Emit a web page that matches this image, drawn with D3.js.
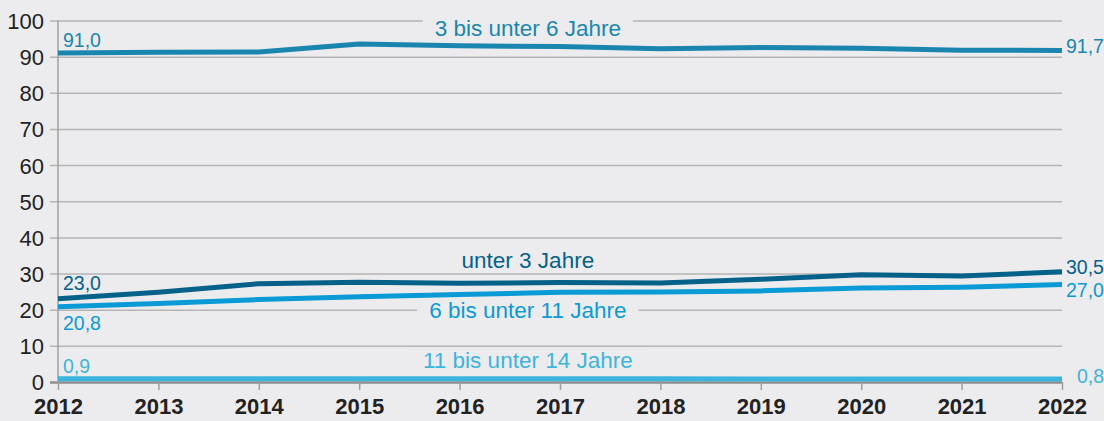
<!DOCTYPE html>
<html>
<head>
<meta charset="utf-8">
<script src="https://cdn.jsdelivr.net/npm/d3@7"></script>
<style>
  body { margin: 0; background: #ececee; }
  svg { display: block; font-family: "Liberation Sans", Arial, Helvetica, sans-serif; }
  .grid line { stroke: #b5b5b5; stroke-width: 1.5; }
  .axis text { fill: #222; }
</style>
</head>
<body>
<div id="chart"></div>
<script>
// Data
const years = [2012, 2013, 2014, 2015, 2016, 2017, 2018, 2019, 2020, 2021, 2022];
const yTicks = [0, 10, 20, 30, 40, 50, 60, 70, 80, 90, 100];

const age3to6   = [91.0, 91.2, 91.3, 93.5, 93.0, 92.8, 92.2, 92.5, 92.3, 91.8, 91.7];
const under3    = [23.0, 24.8, 27.2, 27.6, 27.3, 27.5, 27.4, 28.4, 29.7, 29.3, 30.5];
const age6to11  = [20.8, 21.7, 22.8, 23.6, 24.2, 24.8, 24.9, 25.2, 26.0, 26.2, 27.0];
const age11to14 = [0.9, 0.9, 0.9, 0.9, 0.9, 0.9, 0.9, 0.8, 0.8, 0.8, 0.8];

const seriesNames = ['3 bis unter 6 Jahre', 'unter 3 Jahre', '6 bis unter 11 Jahre', '11 bis unter 14 Jahre'];
const seriesValues = [age3to6, under3, age6to11, age11to14];
const seriesColors = ['#1a86b0', '#04618a', '#0a9ad6', '#3db4de'];

const config = {
  width: 1104,
  height: 421,
  margin: {top: 20, right: 42, bottom: 39, left: 58}
};

const svg = d3.select('#chart').append('svg')
    .attr('width', config.width)
    .attr('height', config.height);

svg.append('rect')
    .attr('width', config.width)
    .attr('height', config.height)
    .attr('fill', '#ececee');

const innerW = config.width - config.margin.left - config.margin.right;
const innerH = config.height - config.margin.top - config.margin.bottom;

const chart = svg.append('g')
    .attr('transform', `translate(${config.margin.left},${config.margin.top})`);

const xScale = d3.scaleLinear()
    .domain([years[0], years[years.length - 1]])
    .range([0, innerW]);

const yScale = d3.scaleLinear()
    .domain([0, 100])
    .range([innerH, 0.5]);

// Gridlines (y)
const yAxis = d3.axisLeft(yScale)
    .tickValues(yTicks)
    .tickSize(-innerW - 8)
    .tickPadding(6)
    .tickFormat(d => d);

const yAxisG = chart.append('g')
    .attr('class', 'axis grid')
    .attr('transform', 'translate(-8,0)')
    .call(yAxis)
    .call(g => g.select('.domain').remove());

yAxisG.selectAll('text')
    .attr('x', -6)
    .style('font-size', '22px')
    .attr('dy', '0.36em');

yAxisG.selectAll('line').filter(d => d === 0)
    .style('stroke', '#8e8e8e')
    .style('stroke-width', 2.5);

// Vertical axis line
chart.append('line')
    .attr('x1', 0).attr('x2', 0)
    .attr('y1', yScale(100)).attr('y2', innerH)
    .attr('stroke', '#a0a0a0')
    .attr('stroke-width', 1.5);

// X axis
const xAxis = d3.axisBottom(xScale)
    .tickValues(years)
    .tickSize(8)
    .tickPadding(10)
    .tickFormat(d => d);

const xAxisG = chart.append('g')
    .attr('class', 'axis')
    .attr('transform', `translate(0,${innerH})`)
    .call(xAxis)
    .call(g => g.select('.domain').remove());

xAxisG.selectAll('line').attr('stroke', '#a0a0a0').attr('stroke-width', 1.5);
xAxisG.selectAll('text')
    .style('font-size', '22px')
    .style('font-weight', 'bold')
    .attr('y', 16)
    .attr('dy', '0.71em');

// Series name labels (with background boxes that cut the gridlines)
const nameAnchors = [95.8, 31.5, 17.7, 3.9];
seriesNames.forEach((name, i) => {
  const g = chart.append('g');
  const t = g.append('text')
      .attr('x', xScale(2016.68))
      .attr('y', yScale(nameAnchors[i]))
      .attr('text-anchor', 'middle')
      .attr('fill', seriesColors[i])
      .style('font-size', '22.5px')
      .text(name);
  const bb = t.node().getBBox();
  g.insert('rect', 'text')
      .attr('x', bb.x - 12)
      .attr('y', bb.y + 2)
      .attr('width', bb.width + 24)
      .attr('height', bb.height - 4)
      .attr('fill', '#ececee');
});

// Lines
const line = d3.line()
    .x((d, i) => xScale(years[i]))
    .y(d => yScale(d));

seriesValues.forEach((vals, i) => {
  chart.append('path')
      .datum(vals)
      .attr('fill', 'none')
      .attr('stroke', seriesColors[i])
      .attr('stroke-width', 5)
      .attr('stroke-linejoin', 'round')
      .attr('d', line);
});

// Value labels at start and end
const fmt = v => v.toFixed(1).replace('.', ',');
const startDy = [-6, -9, 23, -6];
const endDy = [2, 2, 12.5, 4];
const endDx = [4, 4, 4, 15];
seriesValues.forEach((vals, i) => {
  chart.append('text')
      .attr('x', 5)
      .attr('y', yScale(vals[0]) + startDy[i])
      .attr('fill', seriesColors[i])
      .style('font-size', '19.5px')
      .text(fmt(vals[0]));
  chart.append('text')
      .attr('x', xScale(years[years.length - 1]) + endDx[i])
      .attr('y', yScale(vals[vals.length - 1]) + endDy[i])
      .attr('fill', seriesColors[i])
      .style('font-size', '19.5px')
      .text(fmt(vals[vals.length - 1]));
});
</script>
</body>
</html>
